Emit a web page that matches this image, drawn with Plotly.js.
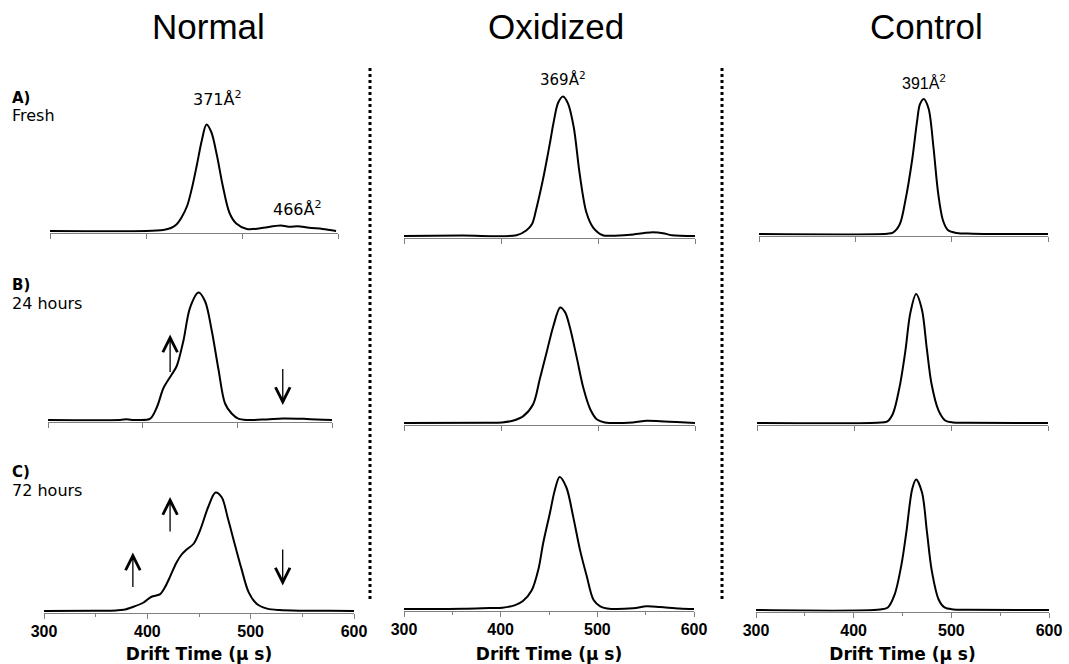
<!DOCTYPE html>
<html><head><meta charset="utf-8">
<script src="https://cdn.plot.ly/plotly-3.0.1.min.js"></script>
<style>html,body{margin:0;padding:0;background:#fff}#chart{width:1069px;height:664px}</style>
</head><body><div id="chart"></div>
<script>
// ---------- DATA ----------
const columnTitles = ["Normal", "Oxidized", "Control"];
const rowLabels = ["A)", "B)", "C)"];
const rowSubLabels = ["Fresh", "24 hours", "72 hours"];
const xTickValues = [300, 400, 500, 600];
const xTickLabels = ["300", "400", "500", "600"];
const xAxisTitle = "Drift Time (μ s)";
const ccsLabels = ["371Å<sup>2</sup>", "466Å<sup>2</sup>", "369Å<sup>2</sup>", "391Å<sup>2</sup>"];

// Normal
const normalFreshTime = [300,400,418,426,432,437,443,448,453,458,463,468,474,480,487,494,505,519,540,550,558,570,584,598];
const normalFreshIntensity = [0,0,0.7,2,4.5,9,17,29,44,60,71,66,50,30,12,5,1.4,1.8,3.6,2.8,3.2,2.1,1.4,0];
const normal24hTime = [300,376,383,390,394,408,415,422,431,436,443,450,459,466,473,480,487,494,501,510,531,548,573,600];
const normal24hIntensity = [0,0,0.5,0,0,0.9,8.5,21.3,30.6,36,52.7,74.8,85,79,59.5,34,11,4.3,0.9,0,0.4,1,0.7,0];
const normal72hTime = [300,348,370,377,386,396,404,412,417,422,428,433,438,445,451,459,466,472,478,485,491,498,506,516,528,548,577,600];
const normal72hIntensity = [0,0.2,0.4,0.8,2.7,5.5,9.5,11.1,15.8,22.9,32,37.5,41,45,53.7,69.5,79,75.8,61.6,43.5,28.4,12.6,4.7,1.6,0.6,0.2,0.2,0];
// Oxidized
const oxidizedFreshTime = [300,360,416,426,432,436,440,444,447,451,454,459,464,469,475,481,488,495,505,514,533,554,567,576,600];
const oxidizedFreshIntensity = [0,0.3,0.5,3.7,8,17,28,40,50,64,75,89,93,88.4,72.5,41.9,15.8,5.6,0.5,0.2,0.9,2.4,1.9,0.5,0];
const oxidized24hTime = [300,385,401,412,423,433,440,447,454,461,466,471,478,485,492,499,507,536,550,564,581,600];
const oxidized24hIntensity = [0,0.2,0.4,1.5,4.6,12.3,29.3,47,64.7,77,73.9,63.9,43.9,23.1,9.2,2.3,0.4,0.4,1.5,1.2,0.6,0];
const oxidized72hTime = [300,361,389,402,415,423,432,439,444,451,456,461,468,475,482,489,496,503,510,537,551,565,585,600];
const oxidized72hIntensity = [0,0.2,0.7,0.9,2.6,5.3,12.3,26.4,44,64.2,79.2,88,81,61.6,39.6,22,6.2,1.8,0.4,0.5,1.8,1.3,0.4,0];
// Control
const controlFreshTime = [300,433,439,446,452,459,464,467,471,476,481,486,491,496,505,522,600];
const controlFreshIntensity = [0,0.2,0.9,6.3,22.5,49.5,74.7,86.4,90,83.7,58.5,27,9,2.7,0.7,0.2,0];
const control24hTime = [300,424,434,440,447,453,458,464,470,475,480,487,494,502,516,600];
const control24hIntensity = [0,0.2,0.9,6,24.1,48.2,73.1,86,75.7,49.9,25.8,8.6,1.7,0.4,0.2,0];
const control72hTime = [300,427,435,442,449,454,460,464,470,475,480,487,493,502,516,600];
const control72hIntensity = [0,0.3,1.7,10.4,30.5,52.2,80.9,87,78.3,52.2,26.1,7,1.7,0.4,0.2,0];

// ---------- LAYOUT GEOMETRY (pixels) ----------
const W = 1069, H = 664;
const px = x => x / W;
const py = y => 1 - y / H;
// [pixel of x=300, pixel of x=600, baseline pixel]
const panelGeom = [
  [50, 338, 231], [48, 332, 420], [44, 354, 611],
  [404, 695, 236], [404, 695, 423], [404, 694, 609],
  [759, 1048, 234], [757, 1048, 423], [756, 1049, 610]
];
const series = [
  [normalFreshTime, normalFreshIntensity], [normal24hTime, normal24hIntensity], [normal72hTime, normal72hIntensity],
  [oxidizedFreshTime, oxidizedFreshIntensity], [oxidized24hTime, oxidized24hIntensity], [oxidized72hTime, oxidized72hIntensity],
  [controlFreshTime, controlFreshIntensity], [control24hTime, control24hIntensity], [control72hTime, control72hIntensity]
];

const traces = [];
const layout = {
  width: W, height: H,
  margin: {l: 0, r: 0, t: 0, b: 0},
  paper_bgcolor: "#fff", plot_bgcolor: "rgba(0,0,0,0)",
  showlegend: false,
  annotations: [], shapes: []
};
const axisGray = "#808080";
const boldTickText = xTickLabels.map(t => "<b>" + t + "</b>");
series.forEach((s, i) => {
  const n = i + 1;
  const sfx = n === 1 ? "" : String(n);
  const [x0, x1, base] = panelGeom[i];
  const isBottom = (i % 3) === 2;
  traces.push({
    x: s[0], y: s[1], type: "scatter", mode: "lines",
    xaxis: "x" + sfx, yaxis: "y" + sfx,
    line: {color: "#000", width: 2, shape: "spline", smoothing: 0.9},
    hoverinfo: "skip"
  });
  const xa = {
    domain: [px(x0), px(x1)], range: [300, 600], anchor: "y" + sfx,
    showgrid: false, zeroline: false, showline: true, linecolor: axisGray, linewidth: 1,
    ticks: "outside", ticklen: 5, tickcolor: axisGray, tickwidth: 1,
    tickvals: xTickValues, ticktext: boldTickText,
    showticklabels: isBottom,
    ticklabelstandoff: -1,
    tickfont: {family: "Liberation Sans, Arial, sans-serif", size: 16, color: "#000"},
    fixedrange: true
  };
  if (isBottom) {
    xa.minor = {dtick: 50, tick0: 300, ticks: "outside", ticklen: 3, tickcolor: axisGray, showgrid: false};
    xa.title = {text: "<b>" + xAxisTitle + "</b>", standoff: 12,
      font: {family: "DejaVu Sans, Verdana, sans-serif", size: 17, color: "#000"}};
  }
  layout["xaxis" + sfx] = xa;
  layout["yaxis" + sfx] = {
    domain: [py(base + 1.5), py(base - 150)], range: [-1, 100], anchor: "x" + sfx,
    visible: false, fixedrange: true
  };
});

// Column titles
const titleX = [208, 556, 926];
columnTitles.forEach((t, c) => {
  layout.annotations.push({text: t, xref: "paper", yref: "paper", x: px(titleX[c]), y: py(26),
    xanchor: "center", yanchor: "middle", showarrow: false,
    font: {family: "Liberation Sans, Arial, sans-serif", size: 35, color: "#000"}});
});
// Row labels
const rowLabelY = [98, 285, 472];
rowLabels.forEach((t, r) => {
  layout.annotations.push({text: "<b>" + t + "</b>", xref: "paper", yref: "paper", x: px(10), y: py(rowLabelY[r]),
    xanchor: "left", yanchor: "middle", showarrow: false,
    font: {family: "DejaVu Sans, Verdana, sans-serif", size: 15, color: "#000"}});
  layout.annotations.push({text: rowSubLabels[r], xref: "paper", yref: "paper", x: px(10), y: py(rowLabelY[r] + 18),
    xanchor: "left", yanchor: "middle", showarrow: false,
    font: {family: "DejaVu Sans, Verdana, sans-serif", size: 16, color: "#000"}});
});
// CCS labels
const ccsPos = [[217, 98, "DejaVu Sans, Verdana, sans-serif", 16], [297, 208, "DejaVu Sans, Verdana, sans-serif", 16],
                [563, 79, "DejaVu Sans, Verdana, sans-serif", 15], [924, 82, "Liberation Sans, Arial, sans-serif", 16]];
ccsLabels.forEach((t, k) => {
  layout.annotations.push({text: t, xref: "paper", yref: "paper", x: px(ccsPos[k][0]), y: py(ccsPos[k][1]),
    xanchor: "center", yanchor: "middle", showarrow: false,
    font: {family: ccsPos[k][2], size: ccsPos[k][3], color: "#000"}});
});
// Arrows (in data coordinates of the Normal panels): [axis suffix, x, tail y, head y]
const arrows = [["2", 429, 31, 57], ["2", 548, 35, 10], ["3", 386, 15, 39], ["3", 422, 52, 76], ["3", 531, 42, 17]];
arrows.forEach(a => {
  layout.annotations.push({text: "", x: a[1], y: a[3], ax: a[1], ay: a[2],
    xref: "x" + a[0], yref: "y" + a[0], axref: "x" + a[0], ayref: "y" + a[0],
    showarrow: true, arrowhead: 5, arrowsize: 2.2, arrowwidth: 1.3, arrowcolor: "#000", standoff: 0});
});
// Dotted separators
[370, 722].forEach(x => {
  layout.shapes.push({type: "line", xref: "paper", yref: "paper", x0: px(x), x1: px(x), y0: py(68), y1: py(600),
    line: {color: "#000", width: 3, dash: "dot"}});
});

Plotly.newPlot("chart", traces, layout, {staticPlot: true, displayModeBar: false});
</script>
</body></html>
